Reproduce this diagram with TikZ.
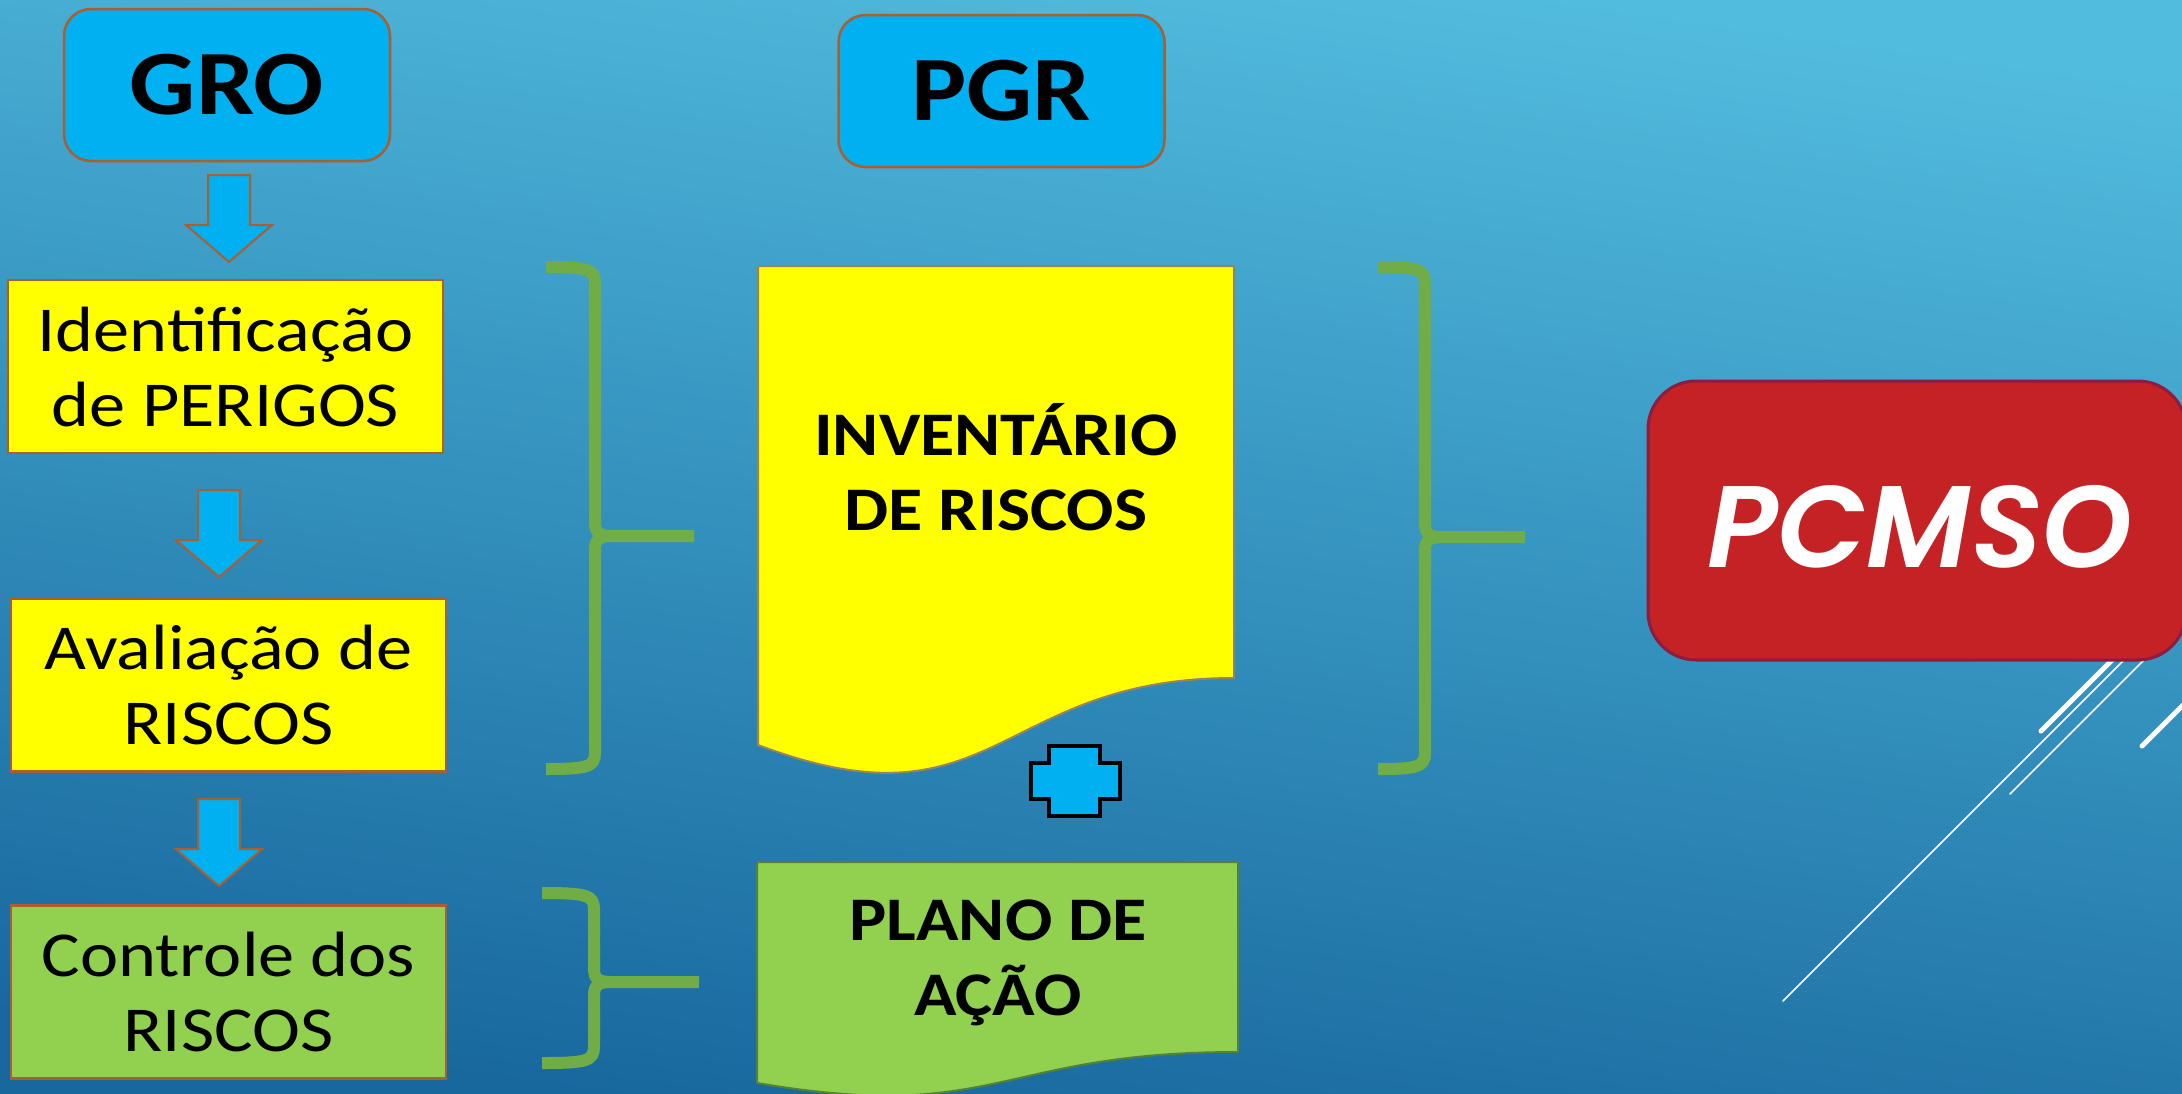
\documentclass[tikz,border=0pt]{standalone}
\usepackage{fontspec}
\setmainfont{Carlito}[FakeStretch=1.13]
\IfFontExistsTF{Poppins SemiBold Italic}
  {\newfontfamily\pcfont{Poppins SemiBold Italic}}
  {\newfontfamily\pcfont{Poppins}[UprightFont=* Bold Italic]}

\definecolor{skyblue}{RGB}{0,176,240}
\definecolor{brownline}{RGB}{172,94,46}
\definecolor{docline}{RGB}{150,130,100}
\definecolor{yellowfill}{RGB}{255,255,0}
\definecolor{greenfill}{RGB}{146,208,80}
\definecolor{greenline}{RGB}{84,130,53}
\definecolor{bracegreen}{RGB}{112,173,71}
\definecolor{redfill}{RGB}{196,34,36}
\definecolor{redline}{RGB}{140,28,64}
\definecolor{bgtop}{RGB}{82,188,222}
\definecolor{bgbottom}{RGB}{24,104,158}

\begin{document}
\begin{tikzpicture}[x=1pt, y=-1pt,
    titlebox/.style={draw=brownline, line width=2.5pt, fill=skyblue, rounded corners=27pt,
        minimum width=326pt, minimum height=152pt, font=\fontsize{92}{110}\selectfont\bfseries},
    stepbox/.style={draw=brownline, line width=2.5pt, minimum width=435pt, minimum height=173pt,
        align=center, font=\fontsize{64}{75}\selectfont},
    doctext/.style={align=center, font=\fontsize{62}{75}\selectfont\bfseries},
    blockarrow/.style={draw=brownline, line width=2pt, fill=skyblue},
    brace/.style={draw=bracegreen, line width=12pt},
    deco/.style={white, line cap=round}]

    \useasboundingbox (0,0) rectangle (2182,1093);
    \shade[top color=bgtop, bottom color=bgbottom, shading angle=-8] (0,0) rectangle (2182,1093);

    % white decoration lines, under the PCMSO box
    \draw[deco, line width=1.5pt] (1783,1001) -- ++(360,-360);
    \draw[deco, line width=1.5pt] (2010,794) -- ++(150,-150);
    \draw[deco, line width=5pt] (2041,731) -- ++(80,-80);
    \draw[deco, line width=5pt] (2142,746) -- ++(60,-60);

    % GRO column
    \node[titlebox] (gro) at (227,85) {GRO};
    \node[stepbox, fill=yellowfill] (ident) at (225.5,366.5) {Identificação\\de PERIGOS};
    \node[stepbox, fill=yellowfill] (aval) at (228.5,685) {Avaliação de\\RISCOS};
    \node[stepbox, fill=greenfill] (contr) at (228.5,992) {Controle dos\\RISCOS};

    \foreach \x/\y in {229/175, 219/490, 219/799}
    {
        \draw[blockarrow] (\x-21,\y) -- ++(42,0) -- ++(0,50) -- ++(22,0) -- (\x,\y+87)
            -- (\x-43,\y+50) -- ++(22,0) -- cycle;
    }

    % braces
    \foreach \l/\v/\t/\m/\b/\p in {546/595/267/536/769/694, 542/594/893/982/1063/699, 1378/1425/267/537/769/1525}
    {
        \draw[brace] (\l,\t) .. controls (\v-8,\t) and (\v,\t+2) .. (\v,\t+16) -- (\v,\m-14)
            .. controls (\v,\m-3) and (\v+4,\m) .. (\v+18,\m) -- (\p,\m);
        \draw[brace] (\l,\b) .. controls (\v-8,\b) and (\v,\b-2) .. (\v,\b-16) -- (\v,\m+14)
            .. controls (\v,\m+3) and (\v+4,\m) .. (\v+18,\m);
    }

    % PGR column
    \node[titlebox] (pgr) at (1001.5,91) {PGR};

    \draw[draw=docline, line width=2pt, fill=yellowfill] (758,266) -- (1234,266) -- (1234,678)
        .. controls (996,678) and (996,835) .. (758,745) -- cycle;
    \node[doctext] (inv) at (996,467) {INVENTÁRIO\\DE RISCOS};

    \draw[line width=4pt, fill=skyblue] (1049,746) -- (1100,746) -- (1100,763) -- (1120,763)
        -- (1120,799) -- (1100,799) -- (1100,816) -- (1049,816) -- (1049,799) -- (1031,799)
        -- (1031,763) -- (1049,763) -- cycle;

    \draw[draw=greenline, line width=2pt, fill=greenfill] (757,862) -- (1238,862) -- (1238,1052)
        .. controls (997.5,1052) and (997.5,1124) .. (757,1083) -- cycle;
    \node[doctext] (plano) at (998,963) {PLANO DE\\AÇÃO};

    % PCMSO
    \node[draw=redline, line width=3pt, fill=redfill, rounded corners=48pt, minimum width=538pt,
        minimum height=279pt] (pcmso) at (1917,520.5) {};
    \node[text=white, font=\fontsize{116}{130}\pcfont] (pcmsotext) at (1920,527) {PCMSO};
\end{tikzpicture}
\end{document}
